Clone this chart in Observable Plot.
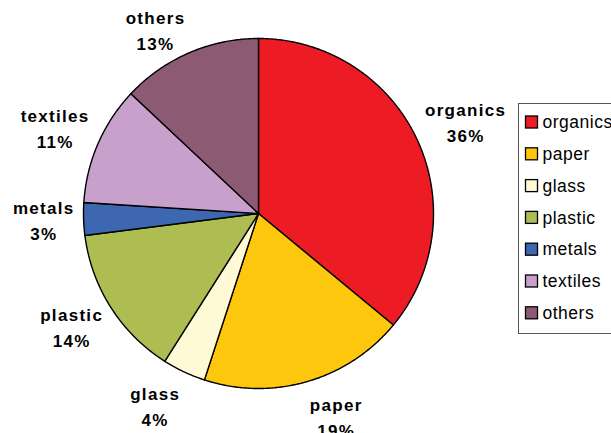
<!DOCTYPE html>
<html>
<head>
<meta charset="utf-8">
<script src="https://cdn.jsdelivr.net/npm/d3@7"></script>
<script src="https://cdn.jsdelivr.net/npm/@observablehq/plot@0.6"></script>
<style>
  html, body { margin: 0; padding: 0; background: #fff; }
  #chart { width: 611px; height: 433px; overflow: hidden; }
</style>
</head>
<body>
<div id="chart"></div>
<script>
// ---- data ----
const categories = ["organics", "paper", "glass", "plastic", "metals", "textiles", "others"];
const shares = [36, 19, 4, 14, 3, 11, 13];
const colors = ["#ED1C24", "#FDC70E", "#FFF9D6", "#AEBD51", "#3E67B1", "#C7A1CB", "#8D5A74"];

// ---- layout ----
const W = 611, H = 433;
const cx = 258, cy = 213, r = 175;
const labelFont = 17, labelSpacing = 1.3, labelLineHeight = 1.53;
const legendFont = 17.5, legendSpacing = 0.5;

const total = d3.sum(shares);
const slices = [];
let acc = 0;
categories.forEach((name, i) => {
  const a0 = acc / total * 2 * Math.PI;
  acc += shares[i];
  const a1 = acc / total * 2 * Math.PI;
  slices.push({name, value: shares[i], a0, a1});
});

// polygon points for each slice (center -> arc -> center)
const polyPts = [];
for (const s of slices) {
  polyPts.push({name: s.name, x: cx, y: cy});
  const n = Math.max(2, Math.ceil((s.a1 - s.a0) / (Math.PI / 360)));
  for (let k = 0; k <= n; k++) {
    const a = s.a0 + (s.a1 - s.a0) * k / n;
    polyPts.push({name: s.name, x: cx + r * Math.sin(a), y: cy - r * Math.cos(a)});
  }
  polyPts.push({name: s.name, x: cx, y: cy});
}

// label positions
const ctx = document.createElement("canvas").getContext("2d");
ctx.font = `bold ${labelFont}px "Liberation Sans", Arial, sans-serif`;
const tw = t => ctx.measureText(t).width + labelSpacing * t.length;
const labelH = labelFont * labelLineHeight;
const labels = slices.map(s => {
  const m = (s.a0 + s.a1) / 2;
  const dx = Math.sin(m), dy = -Math.cos(m);
  const line2 = s.value + "%";
  const wHalf = Math.max(tw(s.name), tw(line2)) / 2;
  let x = cx + dx * (r + 9) + Math.sign(dx) * wHalf;
  let y = cy + dy * (r + 38) - 2;
  y = Math.max(y, 2 + labelH);
  return {x, y, text: s.name + "\n" + line2};
});

// legend rows
const legend = categories.map((name, i) => ({name, yc: 122 + i * 31.8}));

const chart = Plot.plot({
  width: W,
  height: H,
  margin: 0,
  x: {domain: [0, W], range: [0, W], axis: null},
  y: {domain: [0, H], range: [0, H], axis: null},
  color: {domain: categories, range: colors},
  style: {fontFamily: '"Liberation Sans", Arial, sans-serif', background: "#fff", overflow: "hidden"},
  marks: [
    Plot.line(polyPts, {x: "x", y: "y", z: "name", fill: "name", stroke: "#000", strokeWidth: 1.4, strokeLinejoin: "miter", strokeMiterlimit: 2}),
    Plot.text(labels, {x: "x", y: "y", text: "text", fontSize: labelFont, fontWeight: "bold", lineHeight: labelLineHeight, textAnchor: "middle", fill: "#000"}),
    Plot.rect([0], {x1: () => 518.5, x2: () => 660, y1: () => 103.5, y2: () => 333.5, fill: "#fff", stroke: "#555", strokeWidth: 1}),
    Plot.rect(legend, {x1: () => 525.5, x2: () => 537.5, y1: d => d.yc - 6, y2: d => d.yc + 6, fill: "name", stroke: "#000", strokeWidth: 1.3}),
    Plot.text(legend, {x: () => 542, y: "yc", text: "name", fontSize: legendFont, textAnchor: "start", fill: "#000"})
  ]
});

chart.querySelectorAll("text").forEach(t => {
  const g = t.closest("g");
  const bold = g && g.getAttribute("font-weight") === "bold";
  t.style.letterSpacing = (bold ? labelSpacing : legendSpacing) + "px";
});
document.getElementById("chart").appendChild(chart);
</script>
</body>
</html>
